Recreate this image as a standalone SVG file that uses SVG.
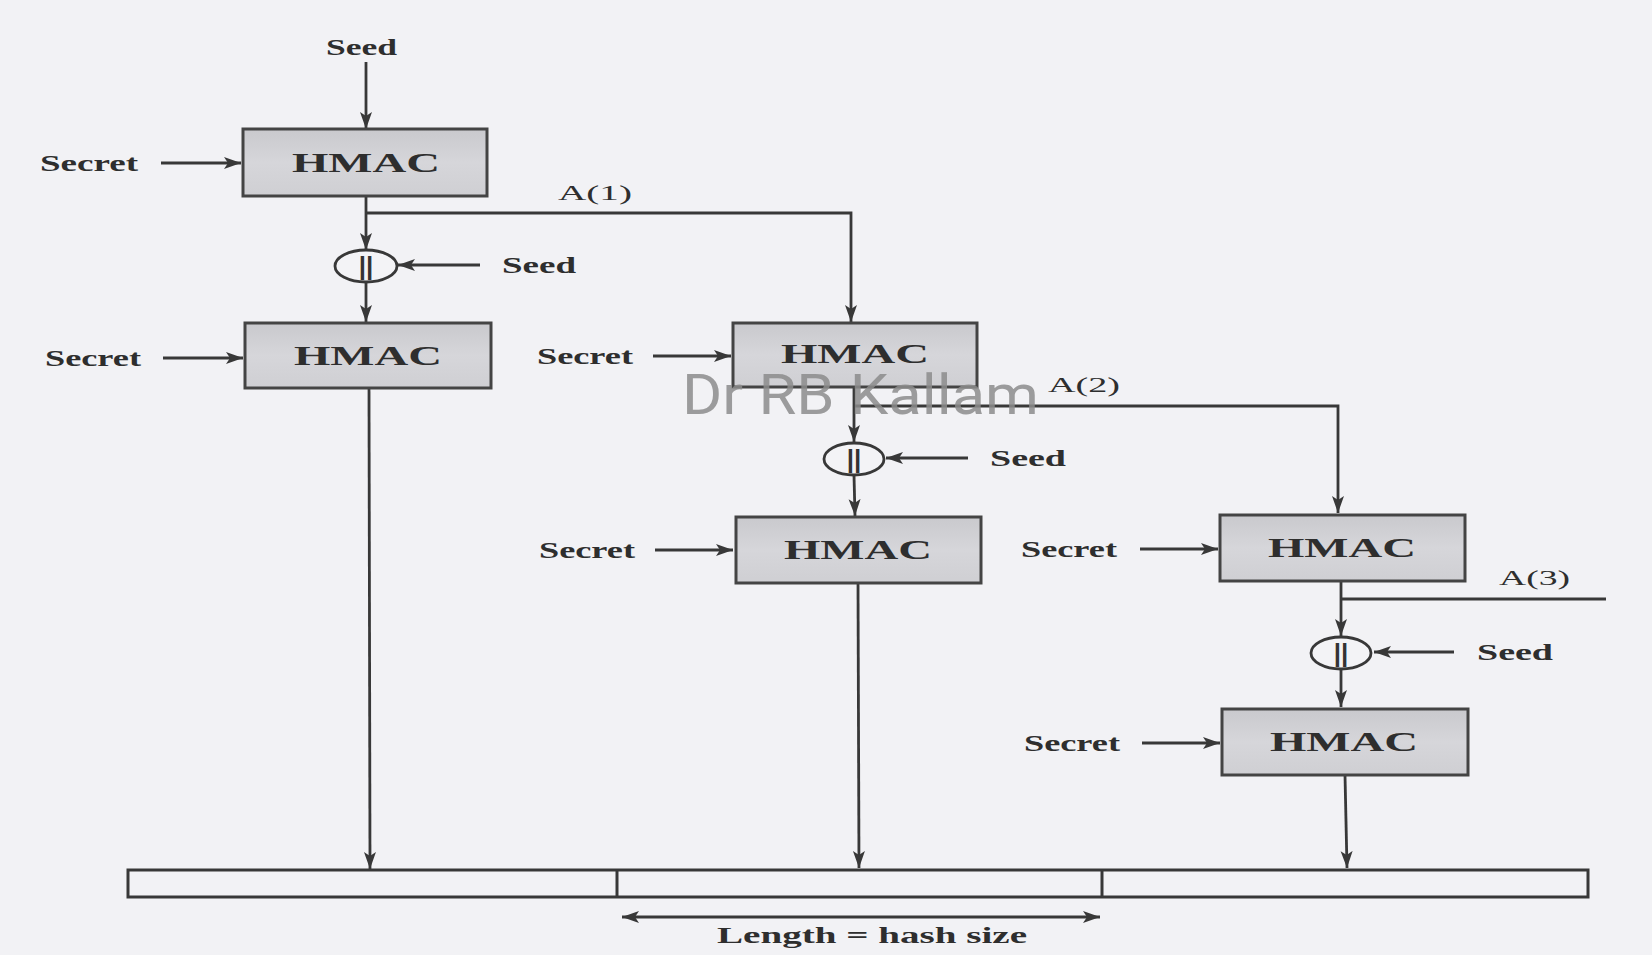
<svg xmlns="http://www.w3.org/2000/svg" width="1652" height="955" viewBox="0 0 1652 955">
<defs>
<marker id="arr" markerUnits="userSpaceOnUse" markerWidth="18" markerHeight="14" refX="17" refY="7" orient="auto-start-reverse">
<path d="M0,1 L17,7 L0,13 L4,7 z" fill="#383838"/>
</marker>
<linearGradient id="boxg" x1="0" y1="0" x2="0" y2="1">
<stop offset="0" stop-color="#c9c9cd"/>
<stop offset="0.5" stop-color="#d6d6da"/>
<stop offset="1" stop-color="#cfcfd3"/>
</linearGradient>
</defs>
<style>
.box{fill:url(#boxg);stroke:#444;stroke-width:3}
.op{fill:#f3f3f6;stroke:#383838;stroke-width:2.8}
.ln{fill:none;stroke:#383838;stroke-width:2.8}
.la{fill:none;stroke:#383838;stroke-width:2.8;marker-end:url(#arr)}
.t{font-family:"Liberation Serif","Times New Roman",serif;fill:#2e2e2e}
.lab{font-size:24px;font-weight:bold}
.hm{font-size:28px;font-weight:bold}
.a{font-size:20px}
.cc{font-family:"Liberation Sans",Arial,sans-serif;font-size:26px;font-weight:bold;fill:#333}
.wm{font-family:"Roboto","Liberation Sans",Arial,sans-serif;font-size:56px;fill:#8c8c8c;fill-opacity:0.85}
</style>
<rect x="0" y="0" width="1652" height="955" fill="#f2f2f5"/>

<g id="connectors">
<line class="la" x1="366" y1="62" x2="366" y2="129"/>
<line class="la" x1="161" y1="163" x2="241" y2="163"/>
<line class="la" x1="366" y1="196" x2="366" y2="250"/>
<polyline class="la" points="366,213 851,213 851,322"/>
<line class="la" x1="480" y1="265" x2="398" y2="265"/>
<line class="la" x1="366" y1="282" x2="366" y2="322"/>
<line class="la" x1="163" y1="358" x2="243" y2="358"/>
<line class="la" x1="369" y1="388" x2="370" y2="869"/>
<line class="la" x1="653" y1="356" x2="731" y2="356"/>
<line class="la" x1="854" y1="387" x2="854" y2="442"/>
<polyline class="la" points="854,406 1338,406 1338,513"/>
<line class="la" x1="968" y1="458" x2="886" y2="458"/>
<line class="la" x1="854" y1="475" x2="855" y2="516"/>
<line class="la" x1="655" y1="550" x2="733" y2="550"/>
<line class="la" x1="858" y1="583" x2="859" y2="868"/>
<line class="la" x1="1140" y1="549" x2="1218" y2="549"/>
<line class="la" x1="1341" y1="581" x2="1341" y2="636"/>
<line class="ln" x1="1341" y1="599" x2="1606" y2="599"/>
<line class="la" x1="1454" y1="652" x2="1374" y2="652"/>
<line class="la" x1="1341" y1="669" x2="1341" y2="707"/>
<line class="la" x1="1142" y1="743" x2="1220" y2="743"/>
<line class="la" x1="1345" y1="775" x2="1347" y2="868"/>
<line class="la" x1="622" y1="917" x2="1100" y2="917" style="marker-start:url(#arr)"/>
</g>

<g id="seed-top"><text class="t lab" x="326" y="55" textLength="71" lengthAdjust="spacingAndGlyphs">Seed</text></g>

<g id="secret-1"><text class="t lab" x="40" y="171" textLength="98" lengthAdjust="spacingAndGlyphs">Secret</text></g>
<g id="hmac-1"><rect class="box" x="243" y="129" width="244" height="67"/><text class="t hm" x="292" y="172" textLength="148" lengthAdjust="spacingAndGlyphs">HMAC</text></g>
<g id="label-a1"><text class="t a" x="558" y="200" textLength="74" lengthAdjust="spacingAndGlyphs">A(1)</text></g>

<g id="concat-1"><ellipse class="op" cx="366" cy="266" rx="31" ry="16"/><text class="cc" x="366" y="275" text-anchor="middle">||</text></g>
<g id="seed-1"><text class="t lab" x="502" y="273" textLength="74" lengthAdjust="spacingAndGlyphs">Seed</text></g>

<g id="secret-2"><text class="t lab" x="45" y="366" textLength="96" lengthAdjust="spacingAndGlyphs">Secret</text></g>
<g id="hmac-2"><rect class="box" x="245" y="323" width="246" height="65"/><text class="t hm" x="294" y="365" textLength="148" lengthAdjust="spacingAndGlyphs">HMAC</text></g>

<g id="secret-3"><text class="t lab" x="537" y="364" textLength="96" lengthAdjust="spacingAndGlyphs">Secret</text></g>
<g id="hmac-3"><rect class="box" x="733" y="323" width="244" height="64"/><text class="t hm" x="781" y="363" textLength="148" lengthAdjust="spacingAndGlyphs">HMAC</text></g>
<g id="label-a2"><text class="t a" x="1048" y="392" textLength="72" lengthAdjust="spacingAndGlyphs">A(2)</text></g>

<g id="concat-2"><ellipse class="op" cx="854" cy="459" rx="30" ry="16"/><text class="cc" x="854" y="468" text-anchor="middle">||</text></g>
<g id="seed-2"><text class="t lab" x="990" y="466" textLength="76" lengthAdjust="spacingAndGlyphs">Seed</text></g>

<g id="secret-4"><text class="t lab" x="539" y="558" textLength="96" lengthAdjust="spacingAndGlyphs">Secret</text></g>
<g id="hmac-4"><rect class="box" x="736" y="517" width="245" height="66"/><text class="t hm" x="784" y="559" textLength="148" lengthAdjust="spacingAndGlyphs">HMAC</text></g>

<g id="secret-5"><text class="t lab" x="1021" y="557" textLength="96" lengthAdjust="spacingAndGlyphs">Secret</text></g>
<g id="hmac-5"><rect class="box" x="1220" y="515" width="245" height="66"/><text class="t hm" x="1268" y="557" textLength="148" lengthAdjust="spacingAndGlyphs">HMAC</text></g>
<g id="label-a3"><text class="t a" x="1499" y="585" textLength="71" lengthAdjust="spacingAndGlyphs">A(3)</text></g>

<g id="concat-3"><ellipse class="op" cx="1341" cy="653" rx="30" ry="16"/><text class="cc" x="1341" y="662" text-anchor="middle">||</text></g>
<g id="seed-3"><text class="t lab" x="1477" y="660" textLength="76" lengthAdjust="spacingAndGlyphs">Seed</text></g>

<g id="secret-6"><text class="t lab" x="1024" y="751" textLength="96" lengthAdjust="spacingAndGlyphs">Secret</text></g>
<g id="hmac-6"><rect class="box" x="1222" y="709" width="246" height="66"/><text class="t hm" x="1270" y="751" textLength="148" lengthAdjust="spacingAndGlyphs">HMAC</text></g>

<g id="output-bar">
<rect x="128" y="870" width="1460" height="27" fill="none" stroke="#383838" stroke-width="3"/>
<line class="ln" x1="617" y1="870" x2="617" y2="897" style="stroke-width:3"/>
<line class="ln" x1="1102" y1="870" x2="1102" y2="897" style="stroke-width:3"/>
</g>
<g id="length-label"><text class="t lab" x="717" y="943" textLength="310" lengthAdjust="spacingAndGlyphs">Length = hash size</text></g>

<g id="watermark"><text class="wm" x="682" y="414" textLength="357" lengthAdjust="spacingAndGlyphs">Dr RB Kallam</text></g>
</svg>
